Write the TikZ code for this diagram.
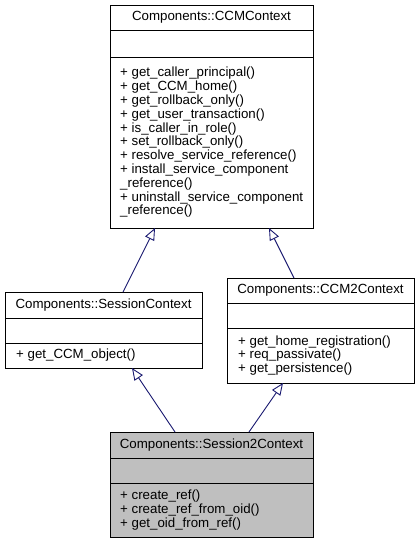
\documentclass[tikz,border=0pt]{standalone}
\usepackage{fontspec}
\setmainfont{Liberation Sans}
\usetikzlibrary{arrows.meta,calc}
\definecolor{edgeblue}{HTML}{191970}
\definecolor{boxgray}{HTML}{BFBFBF}
\begin{document}
\begin{tikzpicture}[x=1pt,y=-1pt,
  umlbox/.style={draw=black, line width=0.9pt, inner sep=0pt, outer sep=0pt, anchor=north west},
  sepline/.style={draw=black, line width=0.9pt},
  ttl/.style={font=\fontsize{13.3}{13.8}\selectfont, inner sep=0pt, anchor=center},
  meth/.style={font=\fontsize{13.3}{13.8}\selectfont, inner sep=0pt, anchor=west, align=left},
  inh/.style={draw=edgeblue, line width=0.9pt, -{Triangle[open, length=12pt, width=10pt]}}
]
\useasboundingbox (0,0) rectangle (420,544);

% Components::CCMContext
\node[umlbox, minimum width=203pt, minimum height=223pt] (ccm) at (110,5) {};
\draw[sepline] (110,30) -- (313,30);
\draw[sepline] (110,57) -- (313,57);
\node[ttl] (ccmt) at (211.5,17.5) {Components::CCMContext};
\node[meth] (ccmm) at (120,142.5) {+ get\_caller\_principal()\\
+ get\_CCM\_home()\\
+ get\_rollback\_only()\\
+ get\_user\_transaction()\\
+ is\_caller\_in\_role()\\
+ set\_rollback\_only()\\
+ resolve\_service\_reference()\\
+ install\_service\_component\\
\_reference()\\
+ uninstall\_service\_component\\
\_reference()};

% Components::SessionContext
\node[umlbox, minimum width=197pt, minimum height=76pt] (sc) at (5,292) {};
\draw[sepline] (5,318) -- (202,318);
\draw[sepline] (5,343) -- (202,343);
\node[ttl] (sct) at (103.5,305) {Components::SessionContext};
\node[meth] (scm) at (16,355.5) {+ get\_CCM\_object()};

% Components::CCM2Context
\node[umlbox, minimum width=187pt, minimum height=105pt] (c2) at (227,278) {};
\draw[sepline] (227,303) -- (414,303);
\draw[sepline] (227,328) -- (414,328);
\node[ttl] (c2t) at (320.5,290.5) {Components::CCM2Context};
\node[meth] (c2m) at (238,355.5) {+ get\_home\_registration()\\
+ req\_passivate()\\
+ get\_persistence()};

% Components::Session2Context
\node[umlbox, fill=boxgray, minimum width=203pt, minimum height=105pt] (s2) at (110,432) {};
\draw[sepline] (110,458) -- (313,458);
\draw[sepline] (110,483) -- (313,483);
\node[ttl] (s2t) at (211.5,445) {Components::Session2Context};
\node[meth] (s2m) at (120,510) {+ create\_ref()\\
+ create\_ref\_from\_oid()\\
+ get\_oid\_from\_ref()};

% inheritance
\draw[inh] ($(sc.north west)+(118,0)$) -- ($(ccm.south west)+(45,0)$);
\draw[inh] ($(c2.north west)+(67,0)$) -- ($(ccm.south west)+(159,0)$);
\draw[inh] ($(s2.north west)+(65,0)$) -- ($(sc.south west)+(127,0)$);
\draw[inh] ($(s2.north west)+(139,0)$) -- ($(c2.south west)+(56,0)$);
\end{tikzpicture}
\end{document}
